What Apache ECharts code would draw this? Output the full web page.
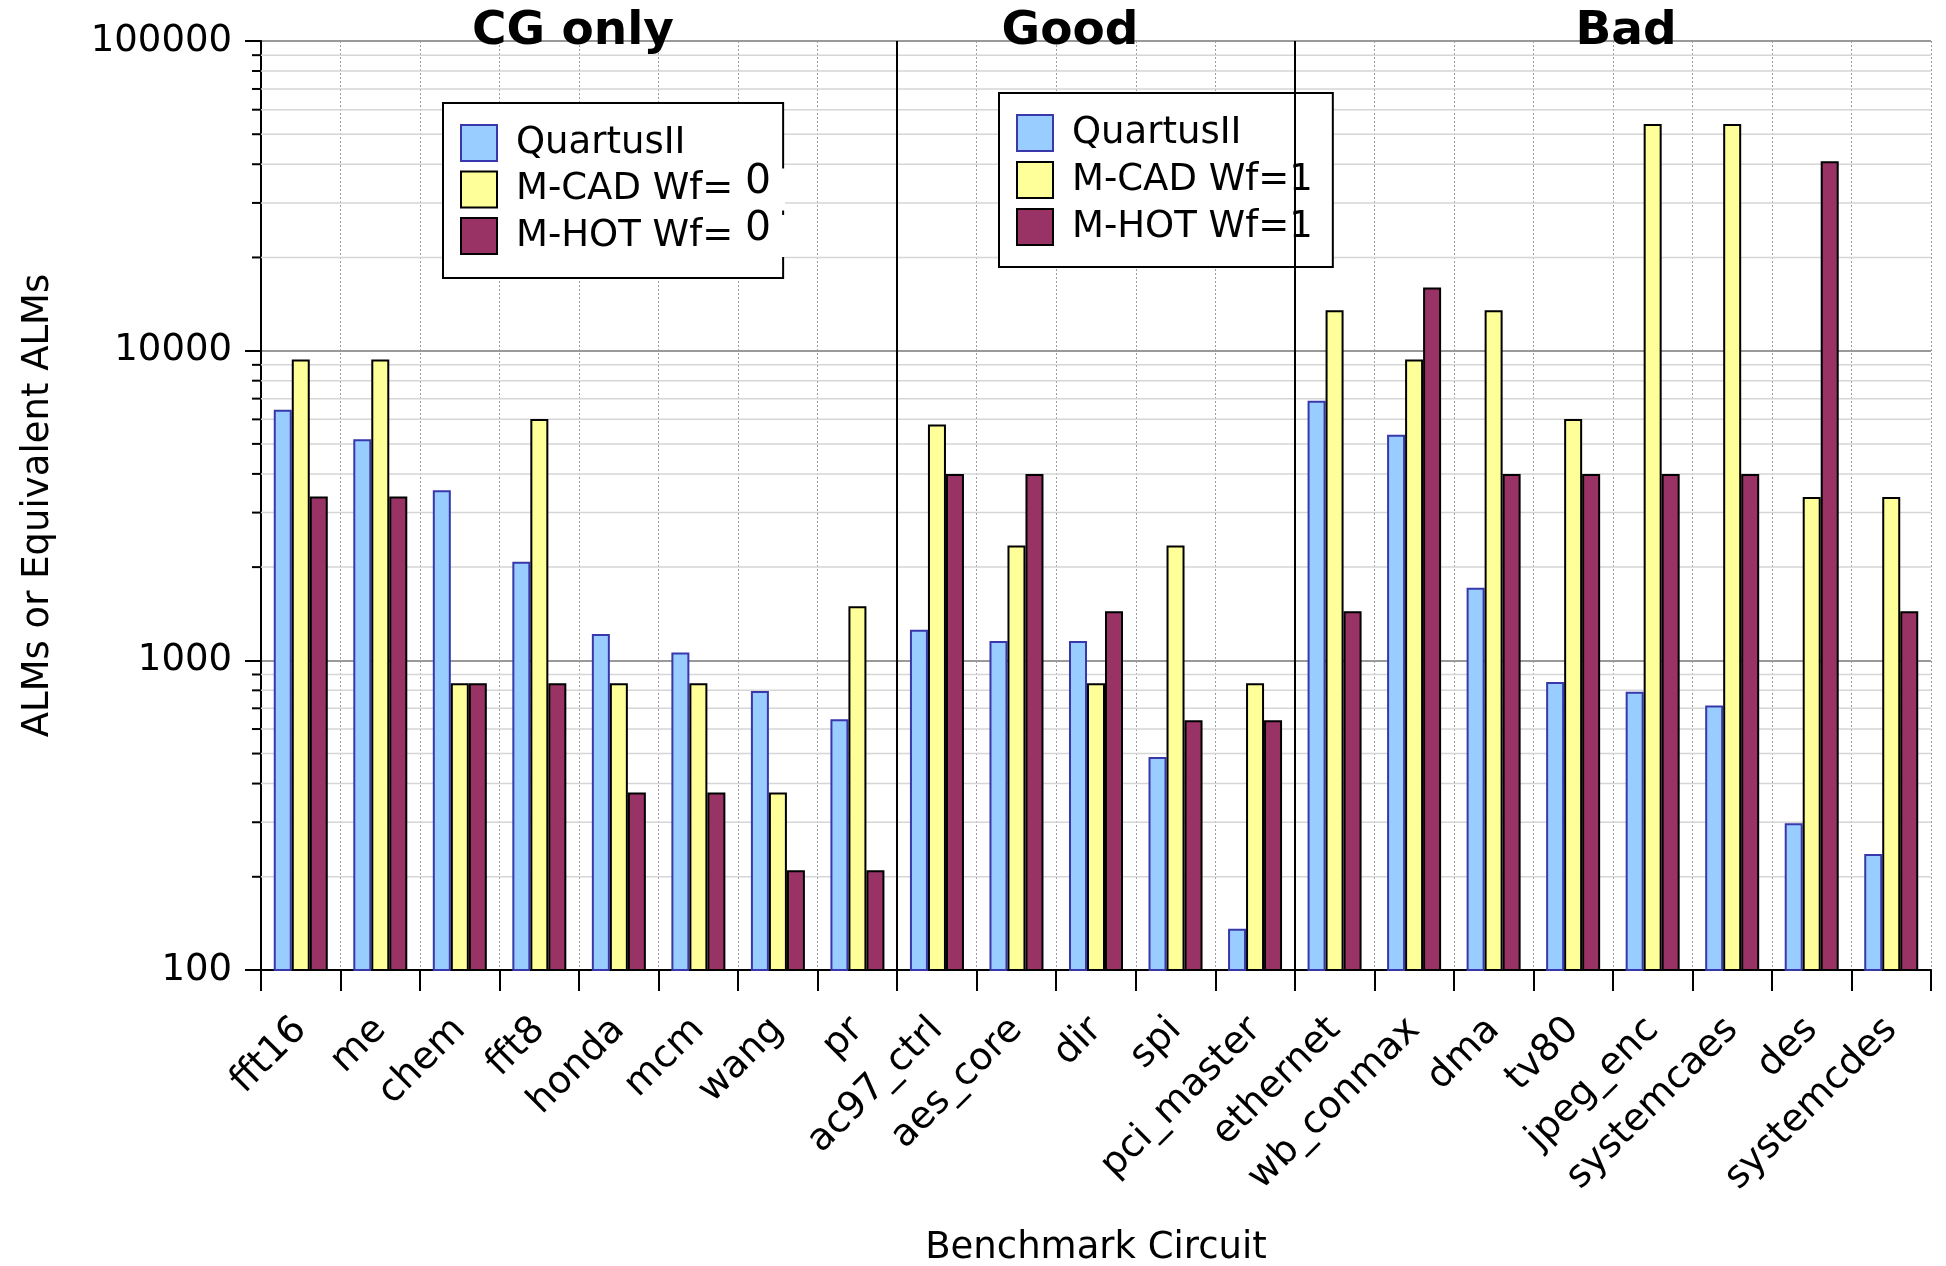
<!DOCTYPE html>
<html>
<head>
<meta charset="utf-8">
<script src="https://cdn.jsdelivr.net/npm/echarts@6/dist/echarts.min.js"></script>
<style>
html,body{margin:0;padding:0;background:#fff;}
#chart{width:1946px;height:1266px;}
</style>
</head>
<body>
<div id="chart"></div>
<script>
const categories = ['fft16','me','chem','fft8','honda','mcm','wang','pr','ac97_ctrl','aes_core','dir','spi','pci_master','ethernet','wb_conmax','dma','tv80','jpeg_enc','systemcaes','des','systemcdes'];
const quartus = [6450, 5180, 3540, 2080, 1217, 1060, 796, 645, 1256, 1155, 1155, 487, 136, 6890, 5350, 1715, 851, 792, 715, 298, 237];
const mcad    = [9360, 9360, 843, 6020, 843, 843, 374, 1495, 5780, 2350, 843, 2350, 843, 13500, 9360, 13500, 6020, 53900, 53900, 3370, 3370];
const mhot    = [3380, 3380, 843, 843, 374, 374, 210, 210, 4000, 4000, 1441, 641, 641, 1441, 16000, 4000, 4000, 4000, 4000, 40860, 1441];
const seriesNames = ['QuartusII', 'M-CAD', 'M-HOT'];
const minorTicks = [200,300,400,500,600,700,800,900,2000,3000,4000,5000,6000,7000,8000,9000,20000,30000,40000,50000,60000,70000,80000,90000];
const groupNames = ['CG only', 'Good', 'Bad'];
const groupBoundaries = [8, 13];

const FONT = 'DejaVu Sans';
const chart = echarts.init(document.getElementById('chart'));

const legendBase = {
  orient: 'vertical',
  icon: 'rect',
  itemWidth: 36,
  itemHeight: 36,
  borderColor: '#000',
  borderWidth: 2,
  backgroundColor: '#fff',
  data: seriesNames,
  selectedMode: false
};

const option = {
  animation: false,
  backgroundColor: '#fff',
  textStyle: { fontFamily: FONT },
  grid: { left: 261, right: 15, top: 41, bottom: 296, outerBoundsMode: 'none', containLabel: false },
  legend: [
    Object.assign({}, legendBase, {
      left: 443, top: 103,
      itemGap: -2,
      padding: [19, -2, 21, 17],
      formatter: function (name) { return name === 'QuartusII' ? name : name + ' Wf= {big|0}'; },
      textStyle: { fontFamily: FONT, fontSize: 37, lineHeight: 42, color: '#000', padding: [0,0,0,14],
        rich: { big: { fontFamily: FONT, fontSize: 41, height: 28, lineHeight: 28, color: '#000',
          backgroundColor: '#fff', padding: [0, 14, 14, 0] } } }
    }),
    Object.assign({}, legendBase, {
      left: 999, top: 93,
      itemGap: 9,
      padding: [21, 20, 21, 17],
      formatter: function (name) { return name === 'QuartusII' ? name : name + ' Wf=1'; },
      textStyle: { fontFamily: FONT, fontSize: 37, lineHeight: 37, color: '#000', padding: [0,0,0,14] }
    })
  ],
  xAxis: [
    {
      type: 'category',
      data: categories,
      boundaryGap: true,
      name: 'Benchmark Circuit',
      nameLocation: 'middle',
      nameGap: 260,
      nameTextStyle: { fontFamily: FONT, fontSize: 37, color: '#000' },
      axisLine: { show: true, lineStyle: { color: '#000', width: 2 } },
      axisTick: { show: true, interval: 0, length: 21, lineStyle: { color: '#000', width: 2 } },
      axisLabel: { interval: 0, rotate: 45, margin: 54, fontFamily: FONT, fontSize: 38, color: '#000' },
      splitLine: { show: true, interval: 0, lineStyle: { color: '#9a9a9a', width: 1, type: [2, 2] } }
    },
    {
      type: 'value', min: 0, max: categories.length, show: false,
      splitLine: { show: false }
    }
  ],
  yAxis: {
    type: 'log',
    logBase: 10,
    min: 100,
    max: 100000,
    name: 'ALMs or Equivalent ALMs',
    nameLocation: 'middle',
    nameGap: 204,
    nameRotate: 90,
    nameTextStyle: { fontFamily: FONT, fontSize: 37, color: '#000' },
    axisLine: { show: true, lineStyle: { color: '#000', width: 2 } },
    axisTick: { show: true, length: 16, lineStyle: { color: '#000', width: 2 } },
    axisLabel: { margin: 29, fontFamily: FONT, fontSize: 37, color: '#000',
      formatter: function (v) { return String(Math.round(v)); } },
    splitLine: { show: true, lineStyle: { color: '#999', width: 2 } }
  },
  series: [
    {
      type: 'custom',
      name: 'minor',
      z: 1,
      silent: true,
      clip: false,
      data: minorTicks.map(function (v) { return [0, v]; }),
      encode: { x: 0, y: 1 },
      renderItem: function (params, api) {
        const y = api.coord([0, api.value(1)])[1];
        const cs = params.coordSys;
        return {
          type: 'group',
          children: [
            { type: 'line', shape: { x1: cs.x, y1: y, x2: cs.x + cs.width, y2: y }, style: { stroke: '#d6d6d6', lineWidth: 1.5 } },
            { type: 'line', shape: { x1: cs.x - 9, y1: y, x2: cs.x, y2: y }, style: { stroke: '#000', lineWidth: 2 } }
          ]
        };
      }
    },
    {
      name: seriesNames[0], type: 'bar', data: quartus, barWidth: 18, barGap: '0%',
      itemStyle: { color: '#99ccff', borderColor: '#3838ac', borderWidth: 2 }
    },
    {
      name: seriesNames[1], type: 'bar', data: mcad, barWidth: 18, barGap: '0%',
      itemStyle: { color: '#ffff99', borderColor: '#000', borderWidth: 2 }
    },
    {
      name: seriesNames[2], type: 'bar', data: mhot, barWidth: 18, barGap: '0%',
      itemStyle: { color: '#993366', borderColor: '#000', borderWidth: 2 }
    },
    {
      type: 'line', name: 'sep', xAxisIndex: 1, yAxisIndex: 0, data: [], silent: true,
      markLine: {
        silent: true, symbol: 'none', label: { show: false },
        lineStyle: { color: '#000', width: 2, type: 'solid' },
        data: groupBoundaries.map(function (b) { return { xAxis: b }; })
      }
    }
  ],
  graphic: [
    { type: 'text', z: 100, x: 573, y: 32, style: { text: groupNames[0], fontFamily: FONT, fontSize: 47, fontWeight: 'bold', fill: '#000', align: 'center', verticalAlign: 'middle' } },
    { type: 'text', z: 100, x: 1070, y: 32, style: { text: groupNames[1], fontFamily: FONT, fontSize: 47, fontWeight: 'bold', fill: '#000', align: 'center', verticalAlign: 'middle' } },
    { type: 'text', z: 100, x: 1626, y: 32, style: { text: groupNames[2], fontFamily: FONT, fontSize: 47, fontWeight: 'bold', fill: '#000', align: 'center', verticalAlign: 'middle' } }
  ]
};
chart.setOption(option);
</script>
</body>
</html>
